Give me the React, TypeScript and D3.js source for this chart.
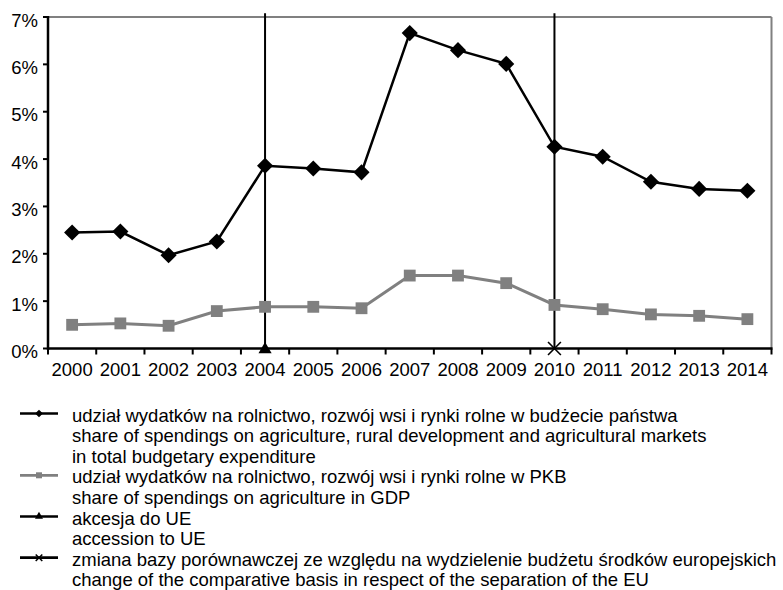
import React from "react";
import * as d3 from "d3";

// years on the category axis
const years = [
  "2000", "2001", "2002", "2003", "2004", "2005", "2006", "2007",
  "2008", "2009", "2010", "2011", "2012", "2013", "2014",
];

// share of agricultural spending in the state budget (%)
const budgetShare = [
  2.45, 2.47, 1.97, 2.26, 3.86, 3.8, 3.72, 6.66, 6.3, 6.01, 4.26, 4.05, 3.52, 3.37, 3.33,
];

// share of agricultural spending in GDP (%)
const gdpShare = [
  0.5, 0.53, 0.48, 0.79, 0.88, 0.88, 0.85, 1.54, 1.54, 1.38, 0.92, 0.83, 0.72, 0.69, 0.62,
];

// vertical marker lines: EU accession and change of basis
const accessionYear = "2004";
const basisChangeYear = "2010";
const markerLineValues = [0, 7.08];

const yTicks = [0, 1, 2, 3, 4, 5, 6, 7];

const legendRows = [
  { symbol: "diamond", text: "udział wydatków na rolnictwo, rozwój wsi i rynki rolne w budżecie państwa" },
  { symbol: null, text: "share of spendings on agriculture, rural development and agricultural markets" },
  { symbol: null, text: "in total budgetary expenditure" },
  { symbol: "square", text: "udział wydatków na rolnictwo, rozwój wsi i rynki rolne w PKB" },
  { symbol: null, text: "share of spendings on agriculture in GDP" },
  { symbol: "triangle", text: "akcesja do UE" },
  { symbol: null, text: "accession to UE" },
  { symbol: "cross", text: "zmiana bazy porównawczej ze względu na wydzielenie budżetu środków europejskich" },
  { symbol: null, text: "change of the comparative basis in respect of the separation of the EU" },
];

const FONT = "'Liberation Sans', Arial, sans-serif";
const GRAY = "#808080";

const App = () => {
  const width = 783;
  const height = 590;
  const margin = { top: 17, right: 11.5, bottom: 241.5, left: 48 };

  const x = d3
    .scaleBand()
    .domain(years)
    .range([margin.left, width - margin.right]);

  const y = d3
    .scaleLinear()
    .domain([0, 7])
    .range([height - margin.bottom, margin.top]);

  const cx = (d: string) => (x(d) as number) + x.bandwidth() / 2;

  const line = d3
    .line<number>()
    .x((_, i) => cx(years[i]))
    .y((d) => y(d));

  const diamond = d3.symbol().type(d3.symbolSquare).size(130)();
  const square = d3.symbol().type(d3.symbolSquare).size(140)();
  const triangle = d3.symbol().type(d3.symbolTriangle).size(75)();
  const cross = d3.symbol().type(d3.symbolTimes).size(110)();

  const smallDiamond = d3.symbol().type(d3.symbolSquare).size(30)();
  const smallSquare = d3.symbol().type(d3.symbolSquare).size(36)();
  const smallTriangle = d3.symbol().type(d3.symbolTriangle).size(28)();
  const smallCross = d3.symbol().type(d3.symbolTimes).size(30)();

  const x0 = margin.left;
  const x1 = width - margin.right;
  const yTop = y(7);
  const yBottom = y(0);

  // tick positions at band boundaries
  const bandEdges = years.map((d) => x(d) as number).concat([x1]);

  const legendBase = 421.5;
  const legendStep = 20.6;

  const legendSymbol = (kind: string | null, ly: number) => {
    if (!kind) return null;
    const color = kind === "square" ? GRAY : "#000";
    let mark = null;
    if (kind === "diamond")
      mark = <path d={smallDiamond as string} transform={`translate(39,${ly}) rotate(45)`} fill="#000" />;
    if (kind === "square")
      mark = <path d={smallSquare as string} transform={`translate(39,${ly})`} fill={GRAY} />;
    if (kind === "triangle")
      mark = <path d={smallTriangle as string} transform={`translate(39,${ly})`} fill="#000" />;
    if (kind === "cross")
      mark = <path d={smallCross as string} transform={`translate(39,${ly})`} stroke="#000" strokeWidth={1.5} fill="none" />;
    return (
      <g>
        <line x1={20} x2={58} y1={ly} y2={ly} stroke={color} strokeWidth={2.7} />
        {mark}
      </g>
    );
  };

  return (
    <div style={{ position: "absolute", left: 0, top: 0 }}>
      <svg width={width} height={height} style={{ display: "block", background: "#fff" }}>
        {/* frame: gray top and right */}
        <line x1={x0} x2={x1} y1={yTop} y2={yTop} stroke={GRAY} strokeWidth={2} />
        <line x1={x1} x2={x1} y1={yTop} y2={yBottom} stroke={GRAY} strokeWidth={2} />

        {/* y axis */}
        <line x1={x0} x2={x0} y1={yTop - 1} y2={yBottom + 1.5} stroke="#000" strokeWidth={2.5} />
        {yTicks.map((t) => (
          <g key={t}>
            <line x1={x0 - 5} x2={x0} y1={y(t)} y2={y(t)} stroke="#000" strokeWidth={2} />
            <text
              x={38}
              y={y(t) + 9.5}
              textAnchor="end"
              fontFamily={FONT}
              fontSize={18.5}
              fill="#000"
            >
              {t}%
            </text>
          </g>
        ))}

        {/* x axis */}
        <line x1={x0} x2={x1 + 1} y1={yBottom} y2={yBottom} stroke="#000" strokeWidth={2.5} />
        {bandEdges.map((e, i) => (
          <line key={i} x1={e} x2={e} y1={yBottom} y2={yBottom + 6} stroke="#000" strokeWidth={2} />
        ))}
        {years.map((d) => (
          <text
            key={d}
            x={cx(d)}
            y={376}
            textAnchor="middle"
            fontFamily={FONT}
            fontSize={18.5}
            fill="#000"
          >
            {d}
          </text>
        ))}

        {/* vertical event lines */}
        <line
          x1={cx(accessionYear)}
          x2={cx(accessionYear)}
          y1={y(markerLineValues[0])}
          y2={y(markerLineValues[1])}
          stroke="#000"
          strokeWidth={2}
        />
        <path
          d={triangle as string}
          transform={`translate(${cx(accessionYear)},${y(markerLineValues[0]) + 1})`}
          fill="#000"
        />
        <line
          x1={cx(basisChangeYear)}
          x2={cx(basisChangeYear)}
          y1={y(markerLineValues[0])}
          y2={y(markerLineValues[1])}
          stroke="#000"
          strokeWidth={2}
        />
        <path
          d={cross as string}
          transform={`translate(${cx(basisChangeYear)},${y(markerLineValues[0])})`}
          stroke="#000"
          strokeWidth={1.6}
          fill="none"
        />

        {/* GDP share series */}
        <path d={line(gdpShare) as string} fill="none" stroke={GRAY} strokeWidth={3} />
        {gdpShare.map((v, i) => (
          <path
            key={i}
            d={square as string}
            transform={`translate(${cx(years[i])},${y(v)})`}
            fill={GRAY}
          />
        ))}

        {/* budget share series */}
        <path d={line(budgetShare) as string} fill="none" stroke="#000" strokeWidth={2.5} />
        {budgetShare.map((v, i) => (
          <path
            key={i}
            d={diamond as string}
            transform={`translate(${cx(years[i])},${y(v)}) rotate(45)`}
            fill="#000"
          />
        ))}

        {/* legend */}
        {legendRows.map((r, i) => {
          const base = legendBase + i * legendStep;
          return (
            <g key={i}>
              {legendSymbol(r.symbol, base - 8)}
              <text x={72} y={base} fontFamily={FONT} fontSize={18.5} fill="#000">
                {r.text}
              </text>
            </g>
          );
        })}
      </svg>
    </div>
  );
};

export default App;
